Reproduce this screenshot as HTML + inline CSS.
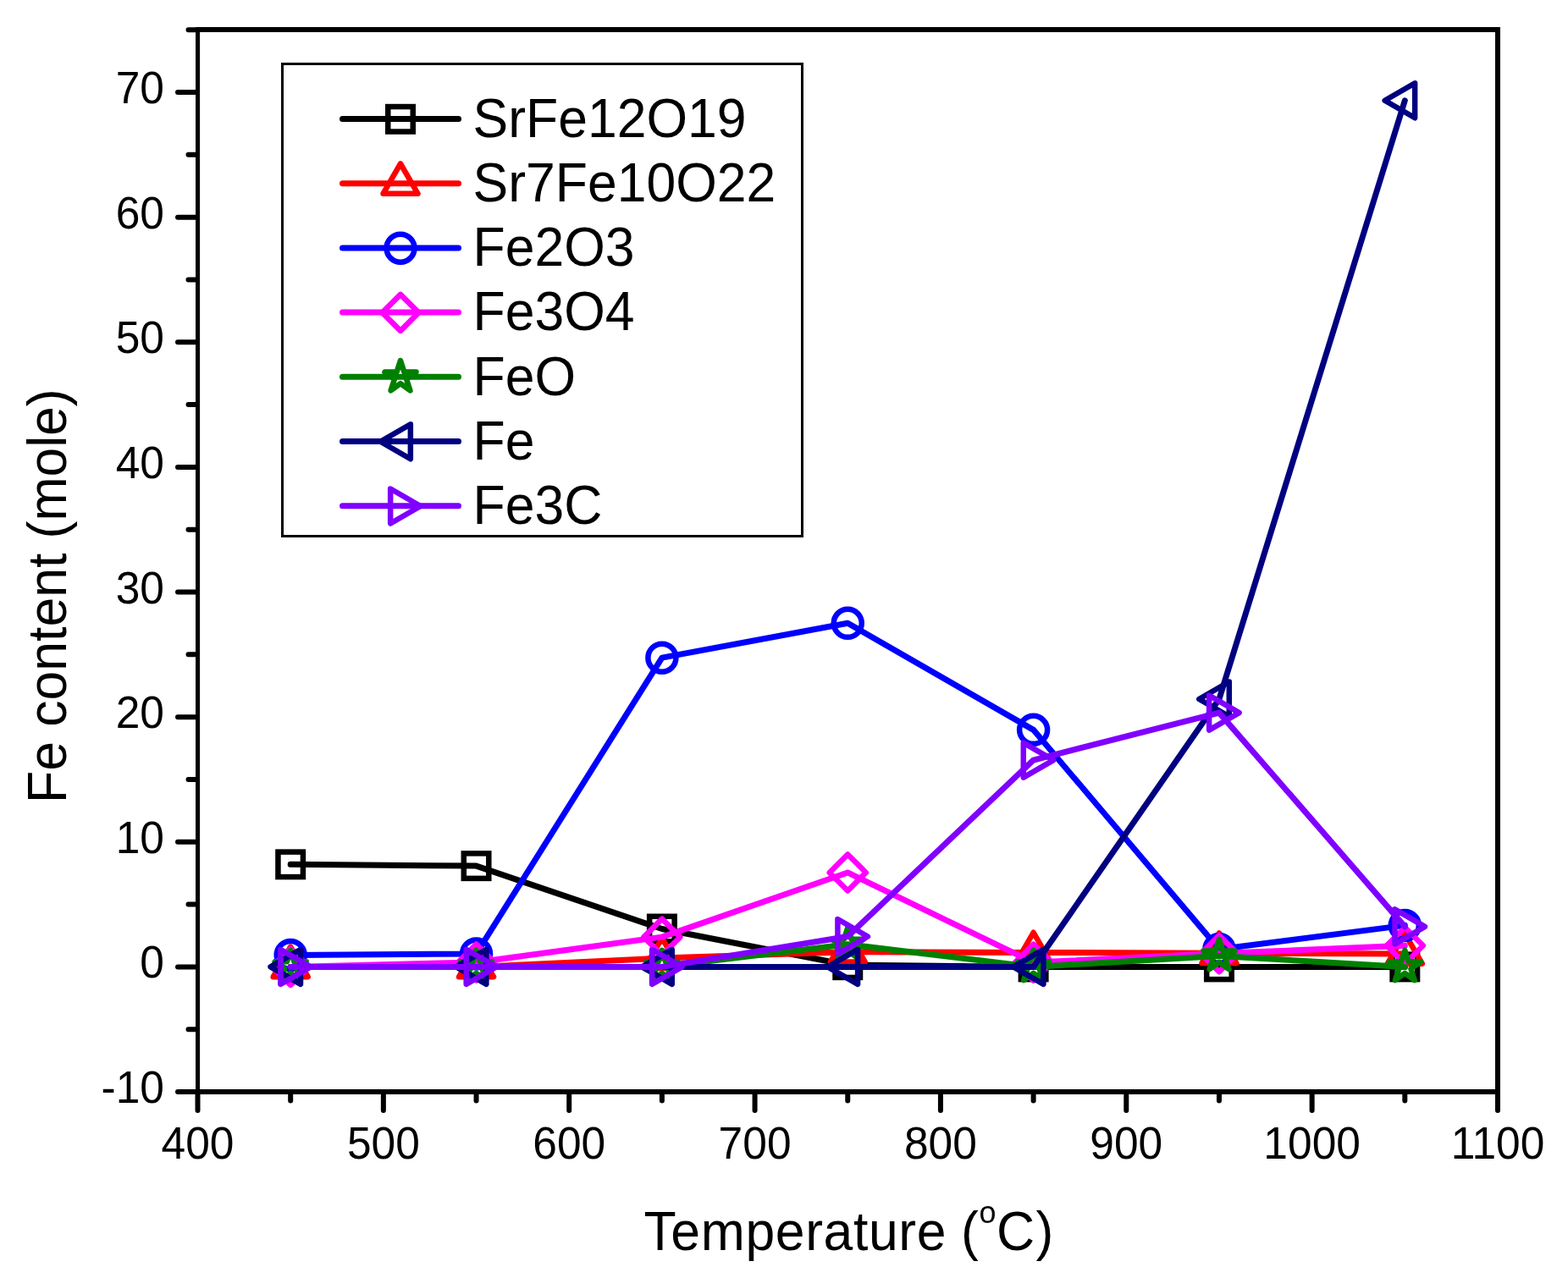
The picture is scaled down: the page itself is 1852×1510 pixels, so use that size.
<!DOCTYPE html>
<html><head><meta charset="utf-8"><title>Fe content vs Temperature</title>
<style>html,body{margin:0;padding:0;background:#fff;overflow:hidden;}svg{display:block;}</style></head>
<body>
<svg width="1852" height="1510" viewBox="0 0 1852 1510">
<rect width="1852" height="1510" fill="#fff"/>
<path d="M210 1290.03H232 M210 1142.4H232 M210 994.78H232 M210 847.15H232 M210 699.53H232 M210 551.9H232 M210 404.28H232 M210 256.65H232 M210 109.03H232 M222.5 1216.21H232 M222.5 1068.59H232 M222.5 920.96H232 M222.5 773.34H232 M222.5 625.71H232 M222.5 478.09H232 M222.5 330.46H232 M222.5 182.84H232 M222.5 35.21H232 M233.5 1291V1312 M452.86 1291V1312 M672.21 1291V1312 M891.57 1291V1312 M1110.93 1291V1312 M1330.29 1291V1312 M1549.64 1291V1312 M1769 1291V1312 M343.18 1291V1300.5 M562.54 1291V1300.5 M781.89 1291V1300.5 M1001.25 1291V1300.5 M1220.61 1291V1300.5 M1439.96 1291V1300.5 M1659.32 1291V1300.5" stroke="#000" stroke-width="6" stroke-linecap="round" fill="none"/>
<rect x="231" y="32" width="5" height="1261" fill="#000"/>
<rect x="1766" y="32" width="6" height="1261" fill="#000"/>
<rect x="231" y="32" width="1541" height="6" fill="#000"/>
<rect x="231" y="1287" width="1541" height="6" fill="#000"/>
<g font-family="'Liberation Sans', Arial, sans-serif" font-size="51.5" fill="#000">
<text transform="translate(233.5 1369.3) scale(1 1.041)" text-anchor="middle">400</text>
<text transform="translate(452.86 1369.3) scale(1 1.041)" text-anchor="middle">500</text>
<text transform="translate(672.21 1369.3) scale(1 1.041)" text-anchor="middle">600</text>
<text transform="translate(891.57 1369.3) scale(1 1.041)" text-anchor="middle">700</text>
<text transform="translate(1110.93 1369.3) scale(1 1.041)" text-anchor="middle">800</text>
<text transform="translate(1330.29 1369.3) scale(1 1.041)" text-anchor="middle">900</text>
<text transform="translate(1549.64 1369.3) scale(1 1.041)" text-anchor="middle">1000</text>
<text transform="translate(1769 1369.3) scale(1 1.041)" text-anchor="middle">1100</text>
<text transform="translate(194 1303.03) scale(1 1.041)" text-anchor="end">-10</text>
<text transform="translate(194 1155.4) scale(1 1.041)" text-anchor="end">0</text>
<text transform="translate(194 1007.78) scale(1 1.041)" text-anchor="end">10</text>
<text transform="translate(194 860.15) scale(1 1.041)" text-anchor="end">20</text>
<text transform="translate(194 712.53) scale(1 1.041)" text-anchor="end">30</text>
<text transform="translate(194 564.9) scale(1 1.041)" text-anchor="end">40</text>
<text transform="translate(194 417.28) scale(1 1.041)" text-anchor="end">50</text>
<text transform="translate(194 269.65) scale(1 1.041)" text-anchor="end">60</text>
<text transform="translate(194 122.03) scale(1 1.041)" text-anchor="end">70</text>
</g>
<g font-family="'Liberation Sans', Arial, sans-serif" font-size="62.5" fill="#000">
<text transform="translate(0 1476.5) scale(1 1.041)"><tspan x="760.5" y="0" letter-spacing="0.62">Temperature</tspan><tspan x="1135" y="0">(</tspan><tspan x="1156.4" y="-29.9" font-size="36">o</tspan><tspan x="1177" y="0">C</tspan><tspan x="1223.5" y="0">)</tspan></text>
<text transform="translate(78 949) rotate(-90) scale(1 1.041)">Fe content (mole)</text>
</g>
<polyline points="343.18,1021.35 562.54,1023.12 781.89,1097.52 1001.25,1140.19 1220.61,1142.4 1439.96,1142.4 1659.32,1142.4" fill="none" stroke="#000000" stroke-width="7" stroke-linejoin="round" stroke-linecap="round"/>
<rect x="328.43" y="1006.6" width="29.5" height="29.5" fill="none" stroke="#000000" stroke-width="6.5" stroke-linejoin="miter"/>
<rect x="547.79" y="1008.37" width="29.5" height="29.5" fill="none" stroke="#000000" stroke-width="6.5" stroke-linejoin="miter"/>
<rect x="767.14" y="1082.77" width="29.5" height="29.5" fill="none" stroke="#000000" stroke-width="6.5" stroke-linejoin="miter"/>
<rect x="986.5" y="1125.44" width="29.5" height="29.5" fill="none" stroke="#000000" stroke-width="6.5" stroke-linejoin="miter"/>
<rect x="1205.86" y="1127.65" width="29.5" height="29.5" fill="none" stroke="#000000" stroke-width="6.5" stroke-linejoin="miter"/>
<rect x="1425.21" y="1127.65" width="29.5" height="29.5" fill="none" stroke="#000000" stroke-width="6.5" stroke-linejoin="miter"/>
<rect x="1644.57" y="1127.65" width="29.5" height="29.5" fill="none" stroke="#000000" stroke-width="6.5" stroke-linejoin="miter"/>
<polyline points="343.18,1142.4 562.54,1142.4 781.89,1132.07 1001.25,1124.69 1220.61,1125.42 1439.96,1126.16 1659.32,1126.9" fill="none" stroke="#FF0000" stroke-width="7" stroke-linejoin="round" stroke-linecap="round"/>
<path d="M343.18 1118.73L363.68 1154.24L322.68 1154.24Z" fill="none" stroke="#FF0000" stroke-width="6.5" stroke-linejoin="round"/>
<path d="M562.54 1118.73L583.04 1154.24L542.04 1154.24Z" fill="none" stroke="#FF0000" stroke-width="6.5" stroke-linejoin="round"/>
<path d="M781.89 1108.39L802.39 1143.9L761.39 1143.9Z" fill="none" stroke="#FF0000" stroke-width="6.5" stroke-linejoin="round"/>
<path d="M1001.25 1101.01L1021.75 1136.52L980.75 1136.52Z" fill="none" stroke="#FF0000" stroke-width="6.5" stroke-linejoin="round"/>
<path d="M1220.61 1101.75L1241.11 1137.26L1200.11 1137.26Z" fill="none" stroke="#FF0000" stroke-width="6.5" stroke-linejoin="round"/>
<path d="M1439.96 1102.49L1460.46 1138L1419.46 1138Z" fill="none" stroke="#FF0000" stroke-width="6.5" stroke-linejoin="round"/>
<path d="M1659.32 1103.23L1679.82 1138.74L1638.82 1138.74Z" fill="none" stroke="#FF0000" stroke-width="6.5" stroke-linejoin="round"/>
<polyline points="343.18,1128.52 562.54,1126.9 781.89,777.18 1001.25,736.28 1220.61,862.36 1439.96,1121.44 1659.32,1093.39" fill="none" stroke="#0000FF" stroke-width="7" stroke-linejoin="round" stroke-linecap="round"/>
<circle cx="343.18" cy="1128.52" r="16.5" fill="none" stroke="#0000FF" stroke-width="6.5"/>
<circle cx="562.54" cy="1126.9" r="16.5" fill="none" stroke="#0000FF" stroke-width="6.5"/>
<circle cx="781.89" cy="777.18" r="16.5" fill="none" stroke="#0000FF" stroke-width="6.5"/>
<circle cx="1001.25" cy="736.28" r="16.5" fill="none" stroke="#0000FF" stroke-width="6.5"/>
<circle cx="1220.61" cy="862.36" r="16.5" fill="none" stroke="#0000FF" stroke-width="6.5"/>
<circle cx="1439.96" cy="1121.44" r="16.5" fill="none" stroke="#0000FF" stroke-width="6.5"/>
<circle cx="1659.32" cy="1093.39" r="16.5" fill="none" stroke="#0000FF" stroke-width="6.5"/>
<polyline points="343.18,1142.4 562.54,1136.94 781.89,1107.12 1001.25,1030.94 1220.61,1137.09 1439.96,1126.6 1659.32,1117.3" fill="none" stroke="#FF00FF" stroke-width="7" stroke-linejoin="round" stroke-linecap="round"/>
<path d="M343.18 1120.9L364.68 1142.4L343.18 1163.9L321.68 1142.4Z" fill="none" stroke="#FF00FF" stroke-width="6.5" stroke-linejoin="round"/>
<path d="M562.54 1115.44L584.04 1136.94L562.54 1158.44L541.04 1136.94Z" fill="none" stroke="#FF00FF" stroke-width="6.5" stroke-linejoin="round"/>
<path d="M781.89 1085.62L803.39 1107.12L781.89 1128.62L760.39 1107.12Z" fill="none" stroke="#FF00FF" stroke-width="6.5" stroke-linejoin="round"/>
<path d="M1001.25 1009.44L1022.75 1030.94L1001.25 1052.44L979.75 1030.94Z" fill="none" stroke="#FF00FF" stroke-width="6.5" stroke-linejoin="round"/>
<path d="M1220.61 1115.59L1242.11 1137.09L1220.61 1158.59L1199.11 1137.09Z" fill="none" stroke="#FF00FF" stroke-width="6.5" stroke-linejoin="round"/>
<path d="M1439.96 1105.1L1461.46 1126.6L1439.96 1148.1L1418.46 1126.6Z" fill="none" stroke="#FF00FF" stroke-width="6.5" stroke-linejoin="round"/>
<path d="M1659.32 1095.8L1680.82 1117.3L1659.32 1138.8L1637.82 1117.3Z" fill="none" stroke="#FF00FF" stroke-width="6.5" stroke-linejoin="round"/>
<polyline points="343.18,1142.4 562.54,1142.4 781.89,1142.4 1001.25,1115.83 1220.61,1142.4 1439.96,1129.41 1659.32,1142.4" fill="none" stroke="#008000" stroke-width="7" stroke-linejoin="round" stroke-linecap="round"/>
<path d="M343.18 1122.9L347.56 1136.37L361.72 1136.37L350.26 1144.7L354.64 1158.18L343.18 1149.85L331.72 1158.18L336.09 1144.7L324.63 1136.37L338.8 1136.37Z" fill="none" stroke="#008000" stroke-width="6.5" stroke-linejoin="round"/>
<path d="M562.54 1122.9L566.91 1136.37L581.08 1136.37L569.62 1144.7L574 1158.18L562.54 1149.85L551.07 1158.18L555.45 1144.7L543.99 1136.37L558.16 1136.37Z" fill="none" stroke="#008000" stroke-width="6.5" stroke-linejoin="round"/>
<path d="M781.89 1122.9L786.27 1136.37L800.44 1136.37L788.98 1144.7L793.35 1158.18L781.89 1149.85L770.43 1158.18L774.81 1144.7L763.35 1136.37L777.51 1136.37Z" fill="none" stroke="#008000" stroke-width="6.5" stroke-linejoin="round"/>
<path d="M1001.25 1096.33L1005.63 1109.8L1019.8 1109.8L1008.33 1118.13L1012.71 1131.6L1001.25 1123.28L989.79 1131.6L994.17 1118.13L982.7 1109.8L996.87 1109.8Z" fill="none" stroke="#008000" stroke-width="6.5" stroke-linejoin="round"/>
<path d="M1220.61 1122.9L1224.99 1136.37L1239.15 1136.37L1227.69 1144.7L1232.07 1158.18L1220.61 1149.85L1209.15 1158.18L1213.52 1144.7L1202.06 1136.37L1216.23 1136.37Z" fill="none" stroke="#008000" stroke-width="6.5" stroke-linejoin="round"/>
<path d="M1439.96 1109.91L1444.34 1123.38L1458.51 1123.38L1447.05 1131.71L1451.43 1145.18L1439.96 1136.86L1428.5 1145.18L1432.88 1131.71L1421.42 1123.38L1435.59 1123.38Z" fill="none" stroke="#008000" stroke-width="6.5" stroke-linejoin="round"/>
<path d="M1659.32 1122.9L1663.7 1136.37L1677.87 1136.37L1666.41 1144.7L1670.78 1158.18L1659.32 1149.85L1647.86 1158.18L1652.24 1144.7L1640.78 1136.37L1654.94 1136.37Z" fill="none" stroke="#008000" stroke-width="6.5" stroke-linejoin="round"/>
<polyline points="343.18,1142.4 562.54,1142.4 781.89,1142.4 1001.25,1142.4 1220.61,1142.4 1439.96,826.04 1659.32,118.77" fill="none" stroke="#000080" stroke-width="7" stroke-linejoin="round" stroke-linecap="round"/>
<path d="M319.51 1142.4L355.01 1162.9L355.01 1121.9Z" fill="none" stroke="#000080" stroke-width="6.5" stroke-linejoin="round"/>
<path d="M538.86 1142.4L574.37 1162.9L574.37 1121.9Z" fill="none" stroke="#000080" stroke-width="6.5" stroke-linejoin="round"/>
<path d="M758.22 1142.4L793.73 1162.9L793.73 1121.9Z" fill="none" stroke="#000080" stroke-width="6.5" stroke-linejoin="round"/>
<path d="M977.58 1142.4L1013.09 1162.9L1013.09 1121.9Z" fill="none" stroke="#000080" stroke-width="6.5" stroke-linejoin="round"/>
<path d="M1196.94 1142.4L1232.44 1162.9L1232.44 1121.9Z" fill="none" stroke="#000080" stroke-width="6.5" stroke-linejoin="round"/>
<path d="M1416.29 826.04L1451.8 846.54L1451.8 805.54Z" fill="none" stroke="#000080" stroke-width="6.5" stroke-linejoin="round"/>
<path d="M1635.65 118.77L1671.16 139.27L1671.16 98.27Z" fill="none" stroke="#000080" stroke-width="6.5" stroke-linejoin="round"/>
<polyline points="343.18,1142.4 562.54,1142.4 781.89,1142.4 1001.25,1106.53 1220.61,898.08 1439.96,842.13 1659.32,1094.86" fill="none" stroke="#8000FF" stroke-width="7" stroke-linejoin="round" stroke-linecap="round"/>
<path d="M366.85 1142.4L331.34 1162.9L331.34 1121.9Z" fill="none" stroke="#8000FF" stroke-width="6.5" stroke-linejoin="round"/>
<path d="M586.21 1142.4L550.7 1162.9L550.7 1121.9Z" fill="none" stroke="#8000FF" stroke-width="6.5" stroke-linejoin="round"/>
<path d="M805.56 1142.4L770.06 1162.9L770.06 1121.9Z" fill="none" stroke="#8000FF" stroke-width="6.5" stroke-linejoin="round"/>
<path d="M1024.92 1106.53L989.41 1127.03L989.41 1086.03Z" fill="none" stroke="#8000FF" stroke-width="6.5" stroke-linejoin="round"/>
<path d="M1244.28 898.08L1208.77 918.58L1208.77 877.58Z" fill="none" stroke="#8000FF" stroke-width="6.5" stroke-linejoin="round"/>
<path d="M1463.64 842.13L1428.13 862.63L1428.13 821.63Z" fill="none" stroke="#8000FF" stroke-width="6.5" stroke-linejoin="round"/>
<path d="M1682.99 1094.86L1647.49 1115.36L1647.49 1074.36Z" fill="none" stroke="#8000FF" stroke-width="6.5" stroke-linejoin="round"/>
<rect x="333.5" y="75.5" width="614" height="558" fill="#fff" stroke="#000" stroke-width="3"/>
<path d="M404.5 140.5H541.5" stroke="#000000" stroke-width="7" stroke-linecap="round"/>
<rect x="458.25" y="126.05" width="29.5" height="29.5" fill="none" stroke="#000000" stroke-width="6.5" stroke-linejoin="miter"/>
<text transform="translate(558.5 161.7) scale(1 1.041)" font-family="'Liberation Sans', Arial, sans-serif" font-size="62.5" fill="#000">SrFe12O19</text>
<path d="M404.5 216.7H541.5" stroke="#FF0000" stroke-width="7" stroke-linecap="round"/>
<path d="M473 193.33L493.5 228.84L452.5 228.84Z" fill="none" stroke="#FF0000" stroke-width="6.5" stroke-linejoin="round"/>
<text transform="translate(558.5 237.95) scale(1 1.041)" font-family="'Liberation Sans', Arial, sans-serif" font-size="62.5" fill="#000">Sr7Fe10O22</text>
<path d="M404.5 292.9H541.5" stroke="#0000FF" stroke-width="7" stroke-linecap="round"/>
<circle cx="473" cy="293.2" r="16.5" fill="none" stroke="#0000FF" stroke-width="6.5"/>
<text transform="translate(558.5 314.2) scale(1 1.041)" font-family="'Liberation Sans', Arial, sans-serif" font-size="62.5" fill="#000">Fe2O3</text>
<path d="M404.5 369.1H541.5" stroke="#FF00FF" stroke-width="7" stroke-linecap="round"/>
<path d="M473 347.9L494.5 369.4L473 390.9L451.5 369.4Z" fill="none" stroke="#FF00FF" stroke-width="6.5" stroke-linejoin="round"/>
<text transform="translate(558.5 390.45) scale(1 1.041)" font-family="'Liberation Sans', Arial, sans-serif" font-size="62.5" fill="#000">Fe3O4</text>
<path d="M404.5 445.3H541.5" stroke="#008000" stroke-width="7" stroke-linecap="round"/>
<path d="M473 426.1L477.38 439.57L491.55 439.57L480.08 447.9L484.46 461.38L473 453.05L461.54 461.38L465.92 447.9L454.45 439.57L468.62 439.57Z" fill="none" stroke="#008000" stroke-width="6.5" stroke-linejoin="round"/>
<text transform="translate(558.5 466.7) scale(1 1.041)" font-family="'Liberation Sans', Arial, sans-serif" font-size="62.5" fill="#000">FeO</text>
<path d="M404.5 521.5H541.5" stroke="#000080" stroke-width="7" stroke-linecap="round"/>
<path d="M449.33 521.8L484.84 542.3L484.84 501.3Z" fill="none" stroke="#000080" stroke-width="6.5" stroke-linejoin="round"/>
<text transform="translate(558.5 542.95) scale(1 1.041)" font-family="'Liberation Sans', Arial, sans-serif" font-size="62.5" fill="#000">Fe</text>
<path d="M404.5 597.7H541.5" stroke="#8000FF" stroke-width="7" stroke-linecap="round"/>
<path d="M496.67 598L461.16 618.5L461.16 577.5Z" fill="none" stroke="#8000FF" stroke-width="6.5" stroke-linejoin="round"/>
<text transform="translate(558.5 619.2) scale(1 1.041)" font-family="'Liberation Sans', Arial, sans-serif" font-size="62.5" fill="#000">Fe3C</text>
</svg>
</body></html>
